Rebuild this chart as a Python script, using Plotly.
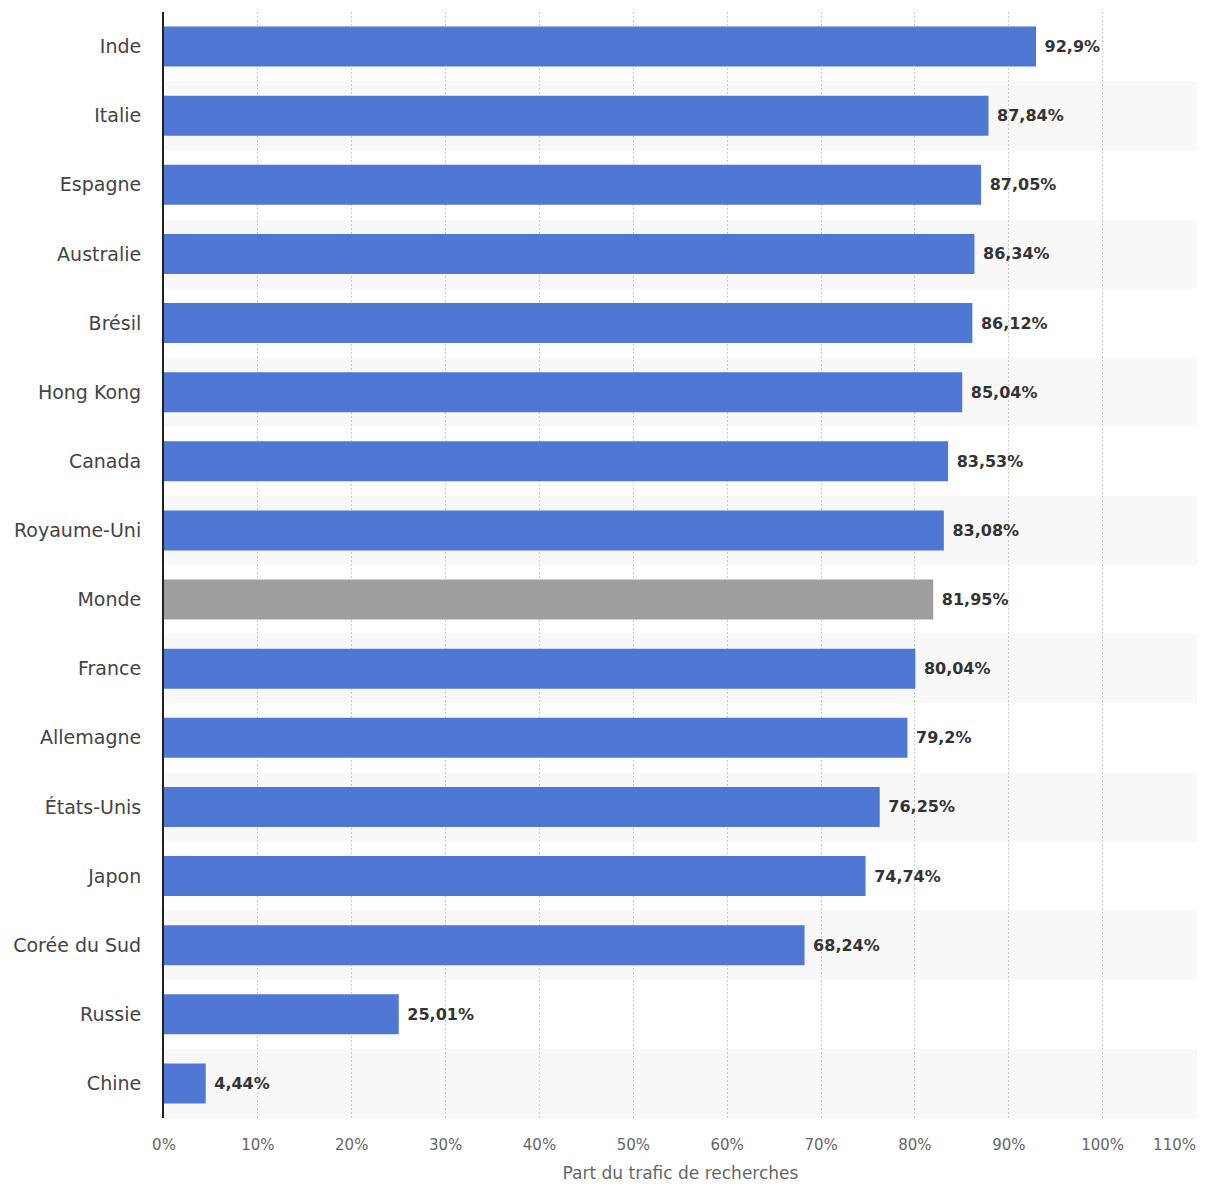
import plotly.graph_objects as go

countries = ["Inde", "Italie", "Espagne", "Australie", "Brésil", "Hong Kong", "Canada",
             "Royaume-Uni", "Monde", "France", "Allemagne", "États-Unis", "Japon",
             "Corée du Sud", "Russie", "Chine"]
values = [92.9, 87.84, 87.05, 86.34, 86.12, 85.04, 83.53, 83.08, 81.95, 80.04, 79.2,
          76.25, 74.74, 68.24, 25.01, 4.44]
labels = ["92,9%", "87,84%", "87,05%", "86,34%", "86,12%", "85,04%", "83,53%", "83,08%",
          "81,95%", "80,04%", "79,2%", "76,25%", "74,74%", "68,24%", "25,01%", "4,44%"]
tick_vals = [0, 10, 20, 30, 40, 50, 60, 70, 80, 90, 100, 110]
tick_text = ["0%", "10%", "20%", "30%", "40%", "50%", "60%", "70%", "80%", "90%", "100%", "110%"]

colors = ["#9e9e9e" if c == "Monde" else "#4f77d4" for c in countries]

FONT = "DejaVu Sans"

fig = go.Figure(go.Bar(
    x=values, y=countries, orientation="h",
    marker=dict(color=colors, line=dict(width=0)),
    width=0.58,
    text=[" " + t for t in labels], textposition="outside",
    textfont=dict(family=FONT, size=16, color="#333333", weight="bold"),
    cliponaxis=False,
))
# invisible companion trace so the overlay axis (for the right-aligned last tick) is drawn
fig.add_trace(go.Scatter(
    x=values, y=countries, xaxis="x2", mode="markers",
    marker=dict(opacity=0), hoverinfo="skip", showlegend=False,
))

shapes = []
for i in range(len(countries)):
    if i % 2 == 1:
        shapes.append(dict(type="rect", xref="paper", yref="y", x0=0, x1=1,
                           y0=i - 0.5, y1=i + 0.5, fillcolor="#f8f8f8",
                           line=dict(width=0), layer="below"))

main_text = tick_text[:-1] + [""]

fig.update_layout(
    width=1195, height=1175,
    margin=dict(l=156, r=6, t=4, b=65, autoexpand=False),
    plot_bgcolor="white", paper_bgcolor="white",
    showlegend=False,
    shapes=shapes,
    font=dict(family=FONT, color="#333333"),
    xaxis=dict(range=[0, 110.05], tickvals=tick_vals, ticktext=main_text,
               automargin=False,
               showgrid=True, gridcolor="#cccccc", griddash="2px,2px", gridwidth=1,
               zeroline=False, showline=False, ticklabelstandoff=16,
               tickfont=dict(family=FONT, size=15, color="#666666"),
               title=dict(text="Part du trafic de recherches",
                          font=dict(family=FONT, size=17, color="#666666"), standoff=32)),
    xaxis2=dict(range=[0, 110.05], overlaying="x", side="bottom", anchor="y",
                tickvals=tick_vals[-1:], ticktext=tick_text[-1:],
                automargin=False, showgrid=False, zeroline=False, showline=False,
                ticklabelstandoff=16, ticklabelshift=-22, ticklabeloverflow="allow",
                tickfont=dict(family=FONT, size=15, color="#666666")),
    yaxis=dict(autorange=False, range=[len(countries) - 0.5, -0.5], showgrid=False,
               automargin=False,
               showline=True, linecolor="#222222", linewidth=2,
               ticks="", ticklabelstandoff=17,
               tickfont=dict(family=FONT, size=19, color="#444444")),
)

fig.write_html("out.html")
